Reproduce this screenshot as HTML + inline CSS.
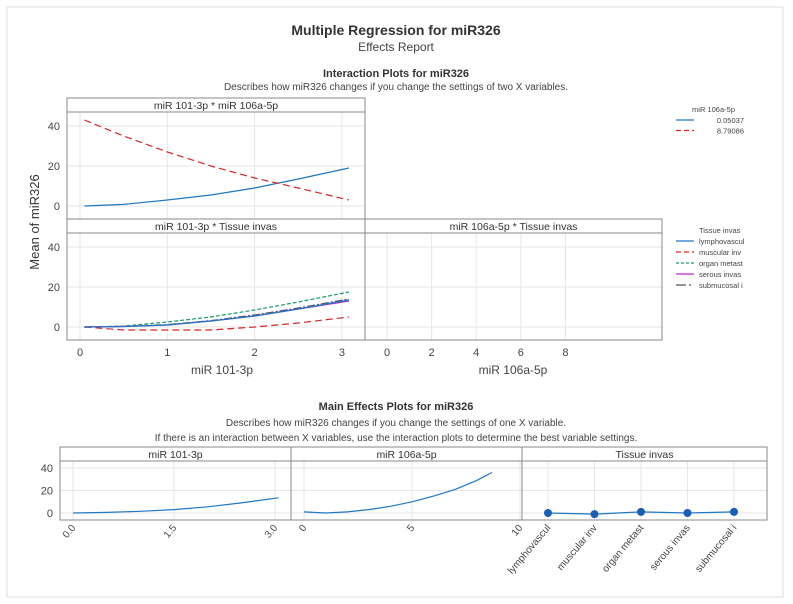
<!DOCTYPE html>
<html><head><meta charset="utf-8"><style>
body{margin:0;background:#fff;}
svg{font-family:"Liberation Sans",sans-serif;display:block}
</style></head><body>
<svg id="c" width="793" height="604" xmlns="http://www.w3.org/2000/svg">
<rect x="7" y="7" width="776" height="590" fill="#fff" stroke="#ddd"/>
<text x="396" y="35" text-anchor="middle" font-size="14" font-weight="bold" fill="#333">Multiple Regression for miR326</text>
<text x="396" y="51" text-anchor="middle" font-size="12" fill="#444">Effects Report</text>
<text x="396" y="77" text-anchor="middle" font-size="11" font-weight="bold" fill="#333">Interaction Plots for miR326</text>
<text x="396" y="90" text-anchor="middle" font-size="10" fill="#444">Describes how miR326 changes if you change the settings of two X variables.</text>
<text x="396" y="410" text-anchor="middle" font-size="11" font-weight="bold" fill="#333">Main Effects Plots for miR326</text>
<text x="396" y="426" text-anchor="middle" font-size="10" fill="#444">Describes how miR326 changes if you change the settings of one X variable.</text>
<text x="396" y="441" text-anchor="middle" font-size="10" fill="#444">If there is an interaction between X variables, use the interaction plots to determine the best variable settings.</text>
<text transform="translate(39,222) rotate(-90)" text-anchor="middle" font-size="13" fill="#333">Mean of miR326</text>
<text x="222" y="374" text-anchor="middle" font-size="12" fill="#444">miR 101-3p</text>
<text x="513" y="374" text-anchor="middle" font-size="12" fill="#444">miR 106a-5p</text>
<g id="g"></g>
</svg>
<script>
const xGrid=[0.05,0.5,1,1.5,2,2.5,3.08];
const topLow=[0,0.8,3,5.5,9,13.5,19];
const topHigh=[43,35,27,20,14,9,3];
const tLympho=[0,0.2,1,3,5.5,9,13.5];
const tMuscular=[0,-1.5,-1.5,-1.5,0,2,5];
const tOrgan=[0,0.5,2.5,5,8.5,12.5,17.5];
const tSerous=[0,0.3,1,3,5.5,9,13];
const tSubmuc=[0,0.3,1.2,3.2,6,9.5,14];
const yTicks=[0,20,40];
const x101Ticks=[0,1,2,3];
const x106Ticks=[0,2,4,6,8];
const me101X=[0,0.5,1,1.5,2,2.5,3.05];
const me101Y=[0,0.5,1.5,3,5.5,9,13.5];
const me106X=[0,1,2,3,4,5,6,7,8,8.7];
const me106Y=[1,0,1,3,6,10,15,21,29,36];
const tissueCats=["lymphovascul","muscular inv","organ metast","serous invas","submucosal i"];
const tissueMeans=[0,-1,1,0,1];
const me101Ticks=[0,1.5,3];
const me106Ticks=[0,5,10];
const legend1Labels=["0.05037","8.79086"];

const NS="http://www.w3.org/2000/svg";
const G=document.getElementById('g');
function mk(t,a,p){const e=document.createElementNS(NS,t);for(const k in a)e.setAttribute(k,a[k]);(p||G).appendChild(e);return e;}
function txt(x,y,s,a){const e=mk('text',Object.assign({x:x,y:y,'font-size':11,fill:'#444'},a||{}));e.textContent=s;return e;}
// scales
const sx101=v=>80+v*87.3;
const sx106=v=>387+v*22.3;
const syTop=v=>206-v*2;
const syBot=v=>327-v*2;
const syMe=v=>513-v*1.125;
const sxMe101=v=>73+v*(275-73)/3;
const sxMe106=v=>304+v*21.6;
const sxCat=i=>548+i*46.5;

function panel(x,y,w,hh,ph,title,name){
  const r=mk('rect',{x:x,y:y,width:w,height:hh+ph,fill:'none',stroke:'#888'});
  
  
  const l=mk('line',{x1:x,y1:y+hh,x2:x+w,y2:y+hh,stroke:'#888'});
  
  
  const t=txt(x+w/2,y+hh-3,title,{'text-anchor':'middle','font-size':10.5,fill:'#333'});
  
  
}
function grid(xs,sx,y0,y1,ys,sy,x0,x1){
  xs.forEach(v=>{const l=mk('line',{x1:sx(v),x2:sx(v),y1:y0,y2:y1,stroke:'#e6e6e6'});});
  ys.forEach(v=>{const l=mk('line',{x1:x0,x2:x1,y1:sy(v),y2:sy(v),stroke:'#e6e6e6'});});
}
function line(xs,ys,sx,sy,col,dash,name){
  const d=xs.map((v,i)=>(i?'L':'M')+sx(v).toFixed(1)+','+sy(ys[i]).toFixed(1)).join('');
  const p=mk('path',{d:d,fill:'none',stroke:col,'stroke-width':1.2,'stroke-dasharray':dash||'none'});
  
  
}
// interaction grids
grid(x101Ticks,sx101,112,219,yTicks,syTop,67,365);
grid(x101Ticks,sx101,233,340,yTicks,syBot,67,365);
grid(x106Ticks,sx106,233,340,yTicks,syBot,365,662);
panel(67,98,298,14,107,'miR 101-3p * miR 106a-5p','panel-101x106');
panel(67,219,298,14,107,'miR 101-3p * Tissue invas','panel-101xtissue');
panel(365,219,297,14,107,'miR 106a-5p * Tissue invas','panel-106xtissue');
yTicks.forEach(v=>{
  let t=txt(60,syTop(v)+4,v,{'text-anchor':'end'});
  t=txt(60,syBot(v)+4,v,{'text-anchor':'end'});
});
x101Ticks.forEach(v=>{const t=txt(sx101(v),356,v,{'text-anchor':'middle'});});
x106Ticks.forEach(v=>{const t=txt(sx106(v),356,v,{'text-anchor':'middle'});});
line(xGrid,topLow,sx101,syTop,'#1f77c4','','line-low-106');
line(xGrid,topHigh,sx101,syTop,'#d62728','7,4','line-high-106');
line(xGrid,tMuscular,sx101,syBot,'#d62728','7,4','line-muscular');
line(xGrid,tOrgan,sx101,syBot,'#1a9a6a','4,2','line-organ');
line(xGrid,tSubmuc,sx101,syBot,'#555','8,2,2,2','line-submucosal');
line(xGrid,tSerous,sx101,syBot,'#c026d3','','line-serous');
line(xGrid,tLympho,sx101,syBot,'#1f77c4','','line-lympho');
// legends
let lt=txt(735,112,'miR 106a-5p',{'text-anchor':'end','font-size':7.5});
const l1c=[['#1f77c4',''],['#d62728','5,3']];
legend1Labels.forEach((s,i)=>{const y=123+i*10.5;
 const l=mk('line',{x1:676,x2:694,y1:y-3,y2:y-3,stroke:l1c[i][0],'stroke-width':1.2,'stroke-dasharray':l1c[i][1]||'none'});
 const t=txt(744,y,s,{'text-anchor':'end','font-size':7.5});});
lt=txt(699,233,'Tissue invas',{'font-size':7.5});
const l2c=[['#1f77c4',''],['#d62728','5,3'],['#1a9a6a','3,2'],['#c026d3',''],['#555','10,3,2,3']];
tissueCats.forEach((s,i)=>{const y=244+i*11;
 const l=mk('line',{x1:676,x2:694,y1:y-3,y2:y-3,stroke:l2c[i][0],'stroke-width':1.2,'stroke-dasharray':l2c[i][1]||'none'});
 const t=txt(699,y,s,{'font-size':7.5});});
// main effects
grid(me101Ticks,sxMe101,461,520,yTicks,syMe,60,291);
grid(me106Ticks,sxMe106,461,520,yTicks,syMe,291,522);
grid([],null,461,520,yTicks,syMe,522,767);
tissueCats.forEach((c,i)=>{const l=mk('line',{x1:sxCat(i),x2:sxCat(i),y1:461,y2:520,stroke:'#e6e6e6'});});
panel(60,447,231,14,59,'miR 101-3p','me-panel-101');
panel(291,447,231,14,59,'miR 106a-5p','me-panel-106');
panel(522,447,245,14,59,'Tissue invas','me-panel-tissue');
yTicks.forEach(v=>{const t=txt(53,syMe(v)+4,v,{'text-anchor':'end'});});
me101Ticks.forEach(v=>{const x=sxMe101(v);const t=txt(x+3,528,v.toFixed(1),{'text-anchor':'end',transform:'rotate(-50 '+(x+3)+' 528)','font-size':10});});
me106Ticks.forEach(v=>{const x=sxMe106(v);const t=txt(x+3,528,v,{'text-anchor':'end',transform:'rotate(-50 '+(x+3)+' 528)','font-size':10});});
tissueCats.forEach((c,i)=>{const x=sxCat(i);const t=txt(x+3,528,c,{'text-anchor':'end',transform:'rotate(-50 '+(x+3)+' 528)','font-size':10});});
line(me101X,me101Y,sxMe101,syMe,'#1f77c4','','me-line-101');
line(me106X,me106Y,sxMe106,syMe,'#1f77c4','','me-line-106');
line(tissueCats.map((c,i)=>i),tissueMeans,sxCat,syMe,'#1f77c4','','me-line-tissue');
tissueMeans.forEach((v,i)=>{const c=mk('circle',{cx:sxCat(i),cy:syMe(v),r:4,fill:'#1a5fb4'});});
</script>
</body></html>
